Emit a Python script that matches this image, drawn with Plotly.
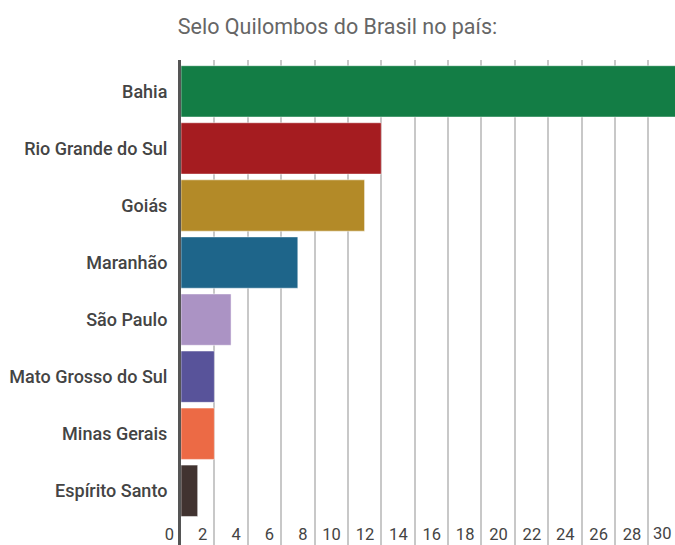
import plotly.graph_objects as go

title = "Selo Quilombos do Brasil no país:"
states = ["Bahia", "Rio Grande do Sul", "Goiás", "Maranhão", "São Paulo",
          "Mato Grosso do Sul", "Minas Gerais", "Espírito Santo"]
values = [32, 12, 11, 7, 3, 2, 2, 1]
colors = ["#137d45", "#a51c20", "#b38a28", "#1e658a", "#ab93c4",
          "#58539a", "#ec6a45", "#413330"]
tick_vals = list(range(0, 30, 2))
last_tick = "30"

fig = go.Figure(go.Bar(
    x=values, y=states, orientation="h",
    marker=dict(color=colors, line=dict(color="rgba(255,255,255,0.5)", width=1)),
    hoverinfo="x+y",
))

font = "Roboto, 'Noto Sans', sans-serif"
fig.update_layout(
    width=675, height=545,
    margin=dict(l=181, r=0, t=60, b=0),
    paper_bgcolor="white", plot_bgcolor="white",
    bargap=0.1,
    showlegend=False,
    title=dict(text=title, x=0.5, xref="container", xanchor="center",
               y=0.952, yanchor="middle",
               font=dict(family=font, size=21.5, color="#666666")),
    font=dict(family=font),
)
fig.update_xaxes(
    range=[0, 29.6], tickvals=tick_vals, ticktext=[str(v) for v in tick_vals],
    showgrid=True, gridcolor="#c8c8c8", gridwidth=1.5, zeroline=False,
    showline=False, ticks="", automargin=False,
    ticklabelposition="inside left", ticklabeloverflow="allow",
    ticklabelstandoff=-4, ticklabelshift=-7,
    tickfont=dict(family=font, size=16.5, color="#444444"),
)
fig.update_yaxes(
    categoryorder="array", categoryarray=states,
    range=[7.95, -0.55], automargin=False,
    showline=True, linecolor="#555555", linewidth=3,
    showgrid=False, ticks="", ticklabelstandoff=7,
    tickfont=dict(family=font, size=18, color="#444444", weight=500),
)
fig.add_annotation(
    text=last_tick, xref="paper", yref="paper", x=1, y=0,
    xanchor="right", yanchor="bottom", showarrow=False, xshift=-1, yshift=0,
    font=dict(family=font, size=16.5, color="#444444"),
)
fig.write_html("out.html", config={"displayModeBar": False},
               post_script="document.body.style.margin='0';")
